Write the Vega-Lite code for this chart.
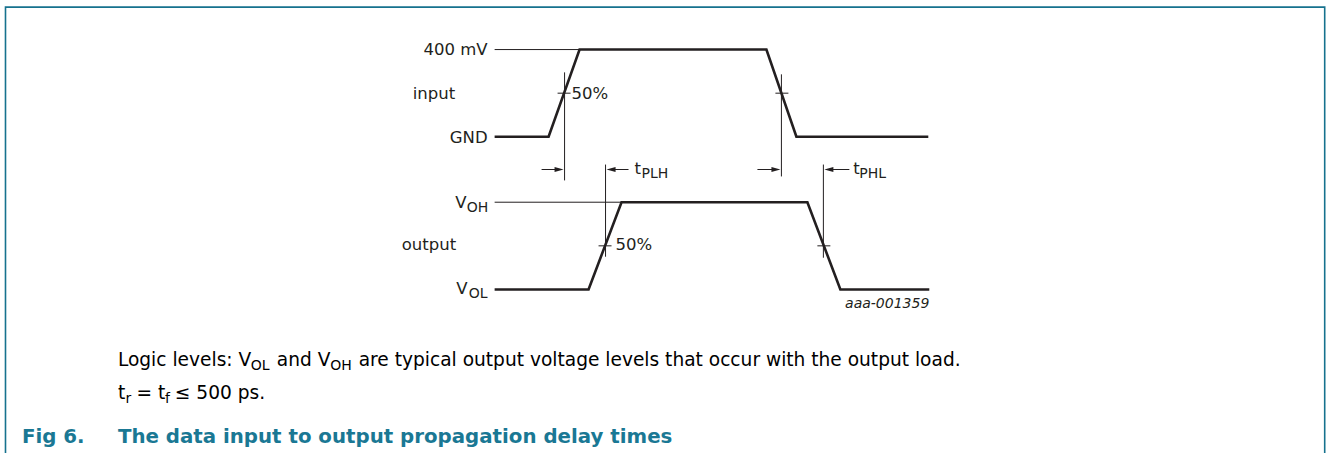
{
  "$schema": "https://vega.github.io/schema/vega-lite/v6.json",
  "width": 1328,
  "height": 457,
  "autosize": {"type": "fit", "contains": "padding"},
  "padding": 0,
  "background": "white",
  "config": {"view": {"stroke": null}, "text": {"font": "DejaVu Sans"}},
  "datasets": {
    "waves": [
      {"sig": "input", "i": 0, "t": 495, "v": 138},
      {"sig": "input", "i": 1, "t": 549, "v": 138},
      {"sig": "input", "i": 2, "t": 580, "v": 50},
      {"sig": "input", "i": 3, "t": 767, "v": 50},
      {"sig": "input", "i": 4, "t": 797, "v": 138},
      {"sig": "input", "i": 5, "t": 929, "v": 138},
      {"sig": "output", "i": 0, "t": 495, "v": 292},
      {"sig": "output", "i": 1, "t": 589, "v": 292},
      {"sig": "output", "i": 2, "t": 622, "v": 204},
      {"sig": "output", "i": 3, "t": 808, "v": 204},
      {"sig": "output", "i": 4, "t": 841, "v": 292},
      {"sig": "output", "i": 5, "t": 930, "v": 292}
    ],
    "frame": [
      {"i": 0, "t": 5.5, "v": 457},
      {"i": 1, "t": 5.5, "v": 7.2},
      {"i": 2, "t": 1325.7, "v": 7.2},
      {"i": 3, "t": 1325.7, "v": 457}
    ],
    "guides": [
      {"kind": "level", "t": 495, "t2": 580, "v": 50, "v2": 50},
      {"kind": "level", "t": 495, "t2": 622, "v": 204, "v2": 204},
      {"kind": "marker", "t": 565, "t2": 565, "v": 73, "v2": 182},
      {"kind": "marker", "t": 782, "t2": 782, "v": 75, "v2": 178},
      {"kind": "marker", "t": 606, "t2": 606, "v": 166, "v2": 259},
      {"kind": "marker", "t": 824, "t2": 824, "v": 166, "v2": 260},
      {"kind": "tick", "t": 558, "t2": 571, "v": 94, "v2": 94},
      {"kind": "tick", "t": 776, "t2": 789, "v": 94, "v2": 94},
      {"kind": "tick", "t": 599, "t2": 612, "v": 248, "v2": 248},
      {"kind": "tick", "t": 818, "t2": 831, "v": 248, "v2": 248},
      {"kind": "shaft", "t": 542, "t2": 560, "v": 171, "v2": 171},
      {"kind": "shaft", "t": 612, "t2": 629, "v": 171, "v2": 171},
      {"kind": "shaft", "t": 758, "t2": 777, "v": 171, "v2": 171},
      {"kind": "shaft", "t": 829, "t2": 850, "v": 171, "v2": 171}
    ],
    "heads": [
      {"dir": "right", "t": 564, "v": 171},
      {"dir": "left", "t": 607, "v": 171},
      {"dir": "right", "t": 781, "v": 171},
      {"dir": "left", "t": 825, "v": 171}
    ],
    "labels": [
      {"role": "lr", "text": "400 mV", "t": 488, "v": 55},
      {"role": "lr", "text": "GND", "t": 488, "v": 144},
      {"role": "lr", "text": "V", "t": 467, "v": 210},
      {"role": "lr", "text": "V", "t": 468, "v": 297},
      {"role": "ll", "text": "input", "t": 413, "v": 100},
      {"role": "ll", "text": "output", "t": 402, "v": 252},
      {"role": "ll", "text": "50%", "t": 572, "v": 100},
      {"role": "ll", "text": "50%", "t": 616, "v": 252},
      {"role": "ll", "text": "t", "t": 635, "v": 176},
      {"role": "ll", "text": "t", "t": 854, "v": 176},
      {"role": "sub", "text": "OH", "t": 467, "v": 214},
      {"role": "sub", "text": "OL", "t": 469, "v": 301},
      {"role": "sub", "text": "PLH", "t": 642, "v": 180},
      {"role": "sub", "text": "PHL", "t": 860, "v": 180},
      {"role": "id", "text": "aaa-001359", "t": 930, "v": 311},
      {"role": "cap", "text": "Logic levels: V", "t": 118, "v": 369},
      {"role": "capsub", "text": "OL", "t": 251, "v": 373},
      {"role": "cap", "text": "and V", "t": 277, "v": 369},
      {"role": "capsub", "text": "OH", "t": 330.5, "v": 373},
      {"role": "cap", "text": "are typical output voltage levels that occur with the output load.", "t": 359, "v": 369},
      {"role": "cap", "text": "t", "t": 118, "v": 403},
      {"role": "capsub", "text": "r", "t": 125.5, "v": 407},
      {"role": "cap", "text": "= t", "t": 136.5, "v": 403},
      {"role": "capsub", "text": "f", "t": 165, "v": 407},
      {"role": "cap", "text": "≤ 500 ps.", "t": 175, "v": 403},
      {"role": "title", "text": "Fig 6.", "t": 22, "v": 447},
      {"role": "title", "text": "The data input to output propagation delay times", "t": 118, "v": 447}
    ]
  },
  "encoding": {
    "x": {"field": "t", "type": "quantitative", "scale": {"domain": [0, 1328], "nice": false, "zero": false}, "axis": null},
    "y": {"field": "v", "type": "quantitative", "scale": {"domain": [0, 457], "nice": false, "zero": false, "reverse": true}, "axis": null}
  },
  "layer": [
    {
      "data": {"name": "frame"},
      "mark": {"type": "line", "color": "#16728e", "strokeWidth": 1.6, "strokeJoin": "miter"},
      "encoding": {"order": {"field": "i", "type": "quantitative"}}
    },
    {
      "data": {"name": "guides"},
      "mark": {"type": "rule", "color": "#231f20", "strokeWidth": 1},
      "encoding": {"x2": {"field": "t2"}, "y2": {"field": "v2"}}
    },
    {
      "data": {"name": "waves"},
      "mark": {"type": "line", "color": "#231f20", "strokeWidth": 2.6, "strokeJoin": "miter", "strokeCap": "butt"},
      "encoding": {"detail": {"field": "sig", "type": "nominal"}, "order": {"field": "i", "type": "quantitative"}}
    },
    {
      "data": {"name": "heads"},
      "mark": {"type": "point", "filled": true, "size": 81, "color": "#231f20", "opacity": 1, "strokeWidth": 0},
      "encoding": {
        "shape": {"field": "dir", "type": "nominal", "legend": null,
          "scale": {"domain": ["right", "left"], "range": ["M0,0L-2,-0.55L-2,0.55Z", "M0,0L2,-0.55L2,0.55Z"]}}
      }
    },
    {
      "data": {"name": "labels"},
      "transform": [{"filter": "datum.role === 'lr'"}],
      "mark": {"type": "text", "align": "right", "baseline": "alphabetic", "fontSize": 16.5, "color": "#231f20"},
      "encoding": {"text": {"field": "text"}}
    },
    {
      "data": {"name": "labels"},
      "transform": [{"filter": "datum.role === 'll'"}],
      "mark": {"type": "text", "align": "left", "baseline": "alphabetic", "fontSize": 16.5, "color": "#231f20"},
      "encoding": {"text": {"field": "text"}}
    },
    {
      "data": {"name": "labels"},
      "transform": [{"filter": "datum.role === 'sub'"}],
      "mark": {"type": "text", "align": "left", "baseline": "alphabetic", "fontSize": 14, "color": "#231f20"},
      "encoding": {"text": {"field": "text"}}
    },
    {
      "data": {"name": "labels"},
      "transform": [{"filter": "datum.role === 'id'"}],
      "mark": {"type": "text", "align": "right", "baseline": "alphabetic", "fontSize": 14, "fontStyle": "italic", "color": "#231f20"},
      "encoding": {"text": {"field": "text"}}
    },
    {
      "data": {"name": "labels"},
      "transform": [{"filter": "datum.role === 'cap'"}],
      "mark": {"type": "text", "align": "left", "baseline": "alphabetic", "fontSize": 18.6, "color": "#000000"},
      "encoding": {"text": {"field": "text"}}
    },
    {
      "data": {"name": "labels"},
      "transform": [{"filter": "datum.role === 'capsub'"}],
      "mark": {"type": "text", "align": "left", "baseline": "alphabetic", "fontSize": 14, "color": "#000000"},
      "encoding": {"text": {"field": "text"}}
    },
    {
      "data": {"name": "labels"},
      "transform": [{"filter": "datum.role === 'title'"}],
      "mark": {"type": "text", "align": "left", "baseline": "alphabetic", "fontSize": 19.8, "fontWeight": "bold", "color": "#1a7894"},
      "encoding": {"text": {"field": "text"}}
    }
  ]
}
